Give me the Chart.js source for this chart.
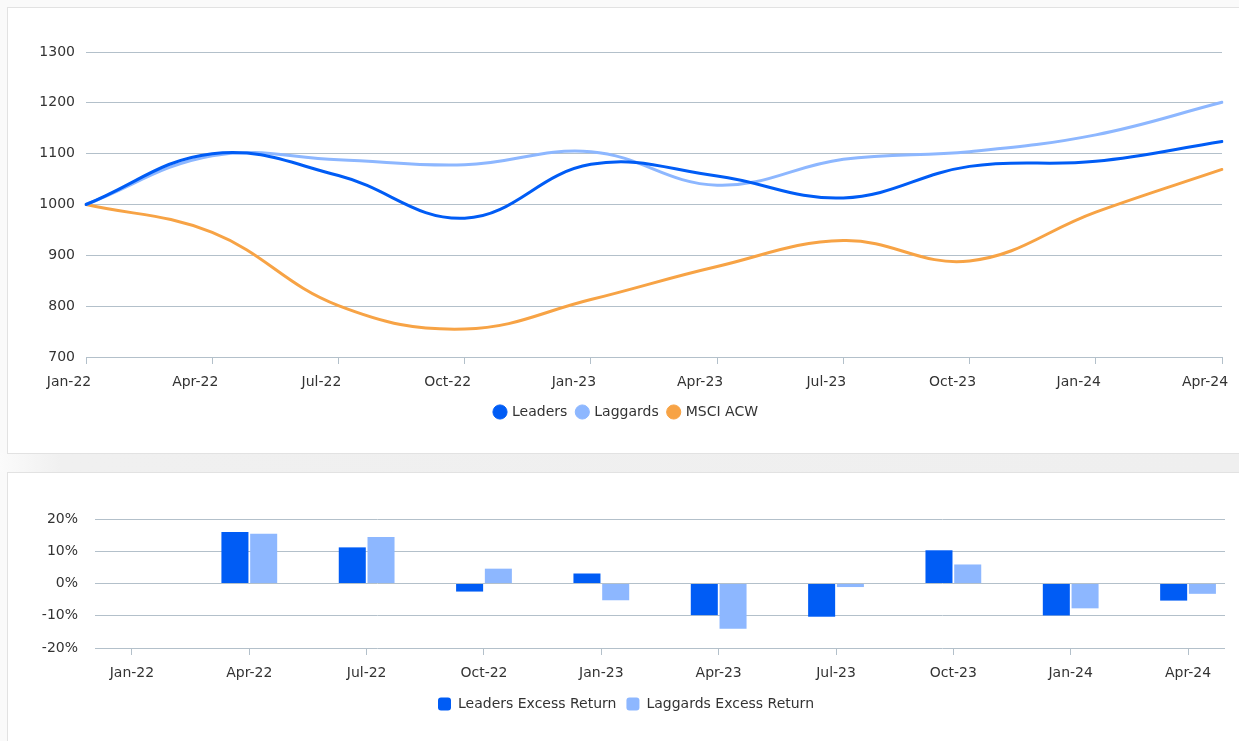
<!DOCTYPE html>
<html>
<head>
<meta charset="utf-8">
<script src="https://cdn.jsdelivr.net/npm/chart.js@4.4.1/dist/chart.umd.min.js"></script>
<style>
  html, body { margin: 0; padding: 0; }
  body { width: 1239px; height: 741px; overflow: hidden; position: relative; background: #fafafa; font-family: "DejaVu Sans", sans-serif; }
  .gap { position: absolute; left: 0; top: 453px; width: 1239px; height: 19px; background: linear-gradient(to right, #fbfbfb 0px, #f0f0f0 60px, #efefef 100%); }
  .card { position: absolute; left: 7px; width: 1240px; background: #fff; border: 1px solid #e2e2e2; box-sizing: border-box; }
  #card1 { top: 7px; height: 447px; }
  #card2 { top: 472px; height: 280px; }
  canvas { position: absolute; }
  #c1 { left: 7px; top: 7px; }
  #c2 { left: 7px; top: 472px; }
</style>
</head>
<body>
<div class="gap"></div>
<div class="card" id="card1"></div>
<div class="card" id="card2"></div>
<canvas id="c1" width="1232" height="446"></canvas>
<canvas id="c2" width="1232" height="269"></canvas>
<script>
// ---- data ----
const quarters = ['Jan-22','Apr-22','Jul-22','Oct-22','Jan-23','Apr-23','Jul-23','Oct-23','Jan-24','Apr-24'];
const leaders  = [1000, 1100, 1057, 973, 1079, 1056, 1013, 1075, 1085, 1124];
const laggards = [1000, 1096, 1088, 1078, 1104, 1038, 1089, 1104, 1137, 1201];
const msciAcw  = [1000, 945, 801, 755, 813, 878, 929, 889, 985, 1069];
const indexTicks = [700, 800, 900, 1000, 1100, 1200, 1300];

const leadersExcess  = [null, 16.0, 11.2, -2.5, 3.1, -9.8, -10.3, 10.3, -9.9, -5.3];
const laggardsExcess = [null, 15.4, 14.4, 4.6, -5.2, -14.0, -1.1, 5.9, -7.7, -3.2];
const pctTicks = [-20, -10, 0, 10, 20];

// ---- styles ----
const C_LEAD = '#005cf5';
const C_LAG = '#8db7ff';
const C_MSCI = '#f7a345';
const GRID = '#b3c0ca';
const TXT = '#333333';

Chart.defaults.font.family = '"DejaVu Sans", Verdana, sans-serif';
Chart.defaults.font.size = 14;
Chart.defaults.color = TXT;
Chart.defaults.animation = false;

// ---- top line chart ----
new Chart(document.getElementById('c1'), {
  type: 'line',
  data: {
    labels: quarters,
    datasets: [
      { label: 'Leaders', data: leaders, borderColor: C_LEAD, backgroundColor: C_LEAD },
      { label: 'Laggards', data: laggards, borderColor: C_LAG, backgroundColor: C_LAG },
      { label: 'MSCI ACW', data: msciAcw, borderColor: C_MSCI, backgroundColor: C_MSCI }
    ]
  },
  options: {
    responsive: false,
    devicePixelRatio: 1,
    elements: {
      line: { borderWidth: 3, tension: 0.4, borderCapStyle: 'round' },
      point: { radius: 0, hoverRadius: 0 }
    },
    layout: { padding: { top: 45, right: 17, bottom: 24, left: 24 } },
    plugins: {
      tooltip: { enabled: false },
      legend: {
        position: 'bottom',
        labels: {
          usePointStyle: true, pointStyle: 'circle',
          boxWidth: 10, boxHeight: 10, padding: 10,
          color: TXT, font: { size: 14 }
        }
      }
    },
    scales: {
      x: {
        type: 'category',
        offset: false,
        grid: { display: true, drawOnChartArea: false, drawTicks: true, tickLength: 7, color: GRID },
        border: { display: false },
        ticks: { labelOffset: -17, padding: 10, maxRotation: 0, autoSkip: false, color: TXT },
        afterFit: (s) => { s.height = 38; s.paddingLeft = 0; s.paddingRight = 0; }
      },
      y: {
        min: 700, max: 1300,
        afterBuildTicks: (s) => { s.ticks = indexTicks.map(v => ({ value: v })); },
        grid: { color: GRID, drawTicks: false, lineWidth: 1 },
        border: { display: false },
        ticks: { padding: 11, color: TXT, callback: (v) => String(v) },
        afterFit: (s) => { s.width = 55; s.paddingTop = 0; s.paddingBottom = 0; }
      }
    }
  }
});

// ---- bottom bar chart ----
new Chart(document.getElementById('c2'), {
  type: 'bar',
  data: {
    datasets: [
      { label: 'Leaders Excess Return', data: leadersExcess.map((v, i) => ({ x: i, y: v })), backgroundColor: C_LEAD, borderColor: C_LEAD },
      { label: 'Laggards Excess Return', data: laggardsExcess.map((v, i) => ({ x: i, y: v })), backgroundColor: C_LAG, borderColor: C_LAG }
    ]
  },
  options: {
    responsive: false,
    devicePixelRatio: 1,
    categoryPercentage: 0.49,
    barPercentage: 0.94,
    layout: { padding: { top: 47, right: 14, bottom: 20, left: 20 } },
    plugins: {
      tooltip: { enabled: false },
      legend: {
        position: 'bottom',
        labels: {
          boxWidth: 13, boxHeight: 13, padding: 10,
          useBorderRadius: true, borderRadius: 3,
          color: TXT, font: { size: 14 }
        }
      }
    },
    scales: {
      x: {
        type: 'linear',
        offset: false,
        min: -0.315, max: 9.315,
        afterBuildTicks: (s) => { s.ticks = quarters.map((q, i) => ({ value: i })); },
        grid: { display: true, offset: false, drawOnChartArea: false, drawTicks: true, tickLength: 7, color: GRID },
        border: { display: false },
        ticks: { padding: 10, maxRotation: 0, autoSkip: false, color: TXT, callback: (v) => quarters[v] },
        afterFit: (s) => { s.height = 39; s.paddingLeft = 0; s.paddingRight = 0; }
      },
      y: {
        min: -20, max: 20,
        afterBuildTicks: (s) => { s.ticks = pctTicks.map(v => ({ value: v })); },
        grid: { color: GRID, drawTicks: false, lineWidth: 1 },
        border: { display: false },
        ticks: { padding: 17, color: TXT, callback: (v) => v + '%' },
        afterFit: (s) => { s.width = 68; s.paddingTop = 0; s.paddingBottom = 0; }
      }
    }
  }
});
</script>
</body>
</html>
